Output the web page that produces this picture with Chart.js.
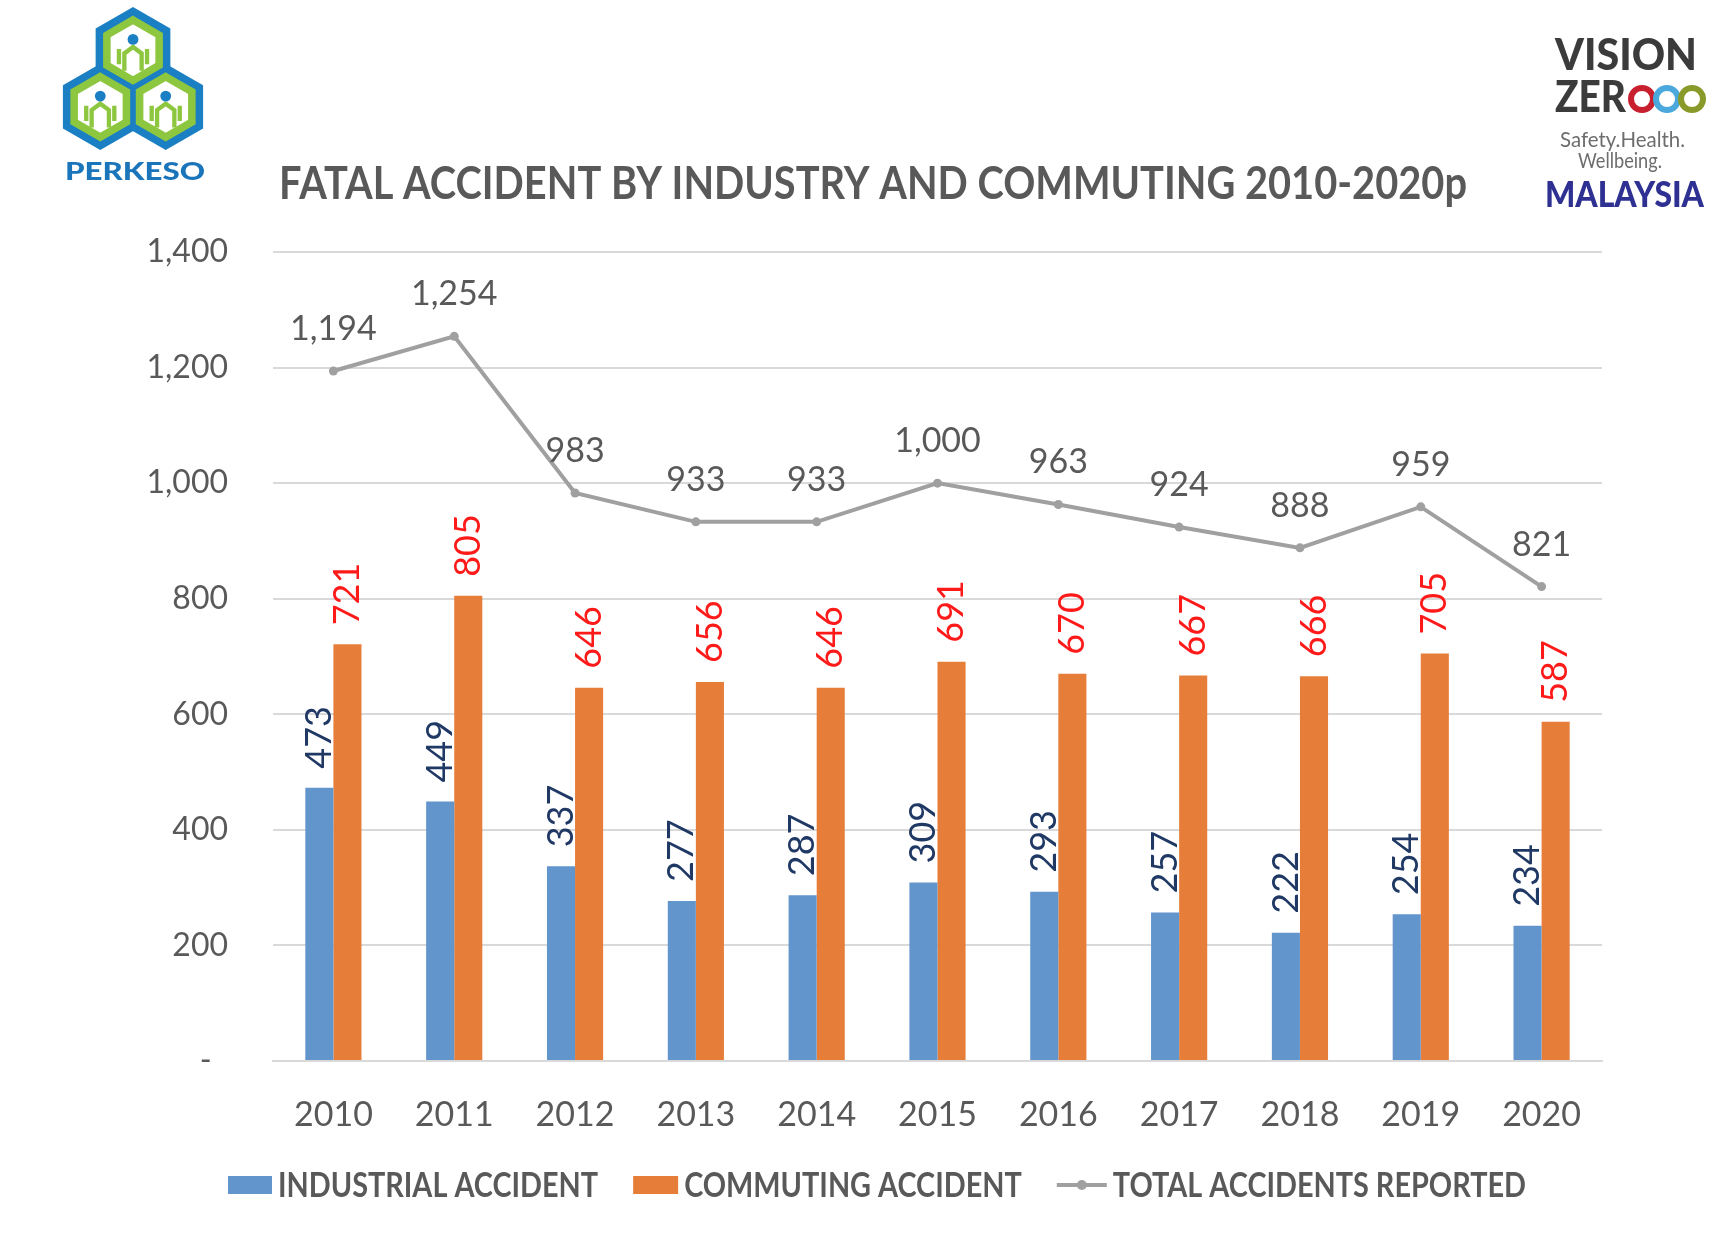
<!DOCTYPE html>
<html>
<head>
<meta charset="utf-8">
<script src="https://cdn.jsdelivr.net/npm/chart.js@4.4.1/dist/chart.umd.min.js"></script>
<style>
  html, body { margin: 0; padding: 0; background: #fff; }
  #wrap { position: relative; width: 1736px; height: 1247px; }
  #chart { position: absolute; left: 0; top: 0; }
  svg.logo { position: absolute; left: 0; top: 0; }
</style>
</head>
<body>
<div id="wrap">
  <canvas id="chart" width="1736" height="1247"></canvas>
  <svg class="logo" width="1736" height="240" xmlns="http://www.w3.org/2000/svg">
    <!-- PERKESO logo -->
    <g transform="translate(133,7) scale(1.08) translate(-133,-7)">
      <g fill="#1b7fc4">
        <polygon points="133,7 167.6,27 167.6,67 133,87 98.4,67 98.4,27"/>
        <polygon points="102.7,59.5 137.3,79.5 137.3,119.5 102.7,139.5 68.1,119.5 68.1,79.5"/>
        <polygon points="163.3,59.5 197.9,79.5 197.9,119.5 163.3,139.5 128.7,119.5 128.7,79.5"/>
      </g>
      <g fill="#fff" stroke="#8dc63f" stroke-width="7">
        <polygon points="133,19 157.2,33 157.2,61 133,75 108.8,61 108.8,33"/>
        <polygon points="102.7,71.5 126.9,85.5 126.9,113.5 102.7,127.5 78.5,113.5 78.5,85.5"/>
        <polygon points="163.3,71.5 187.5,85.5 187.5,113.5 163.3,127.5 139.1,113.5 139.1,85.5"/>
      </g>
      <g fill="none" stroke="#8dc63f" stroke-width="4">
        <path d="M125,66 V50 L133,44 L141,50 V66 M120,60 V46 M146,60 V46"/>
        <path d="M94.7,118.5 V102.5 L102.7,96.5 L110.7,102.5 V118.5 M89.7,112.5 V98.5 M115.7,112.5 V98.5"/>
        <path d="M155.3,118.5 V102.5 L163.3,96.5 L171.3,102.5 V118.5 M150.3,112.5 V98.5 M176.3,112.5 V98.5"/>
      </g>
      <g fill="#1b7fc4">
        <circle cx="133" cy="37" r="5"/>
        <circle cx="102.7" cy="89.5" r="5"/>
        <circle cx="163.3" cy="89.5" r="5"/>
      </g>
    </g>
    <text x="65" y="180" font-family="Lato" font-weight="900" font-size="25" fill="#1b75bb" textLength="140" lengthAdjust="spacingAndGlyphs">PERKESO</text>

    <!-- Vision Zero logo -->
    <text x="1555" y="70" font-family="Lato" font-weight="900" font-size="43" fill="#3b3b3b" textLength="142" lengthAdjust="spacingAndGlyphs">VISION</text>
    <text x="1555" y="112" font-family="Lato" font-weight="900" font-size="43" fill="#3b3b3b" textLength="71" lengthAdjust="spacingAndGlyphs">ZER</text>
    <g fill="none" stroke-width="6">
      <circle cx="1642" cy="99" r="11" stroke="#c8202f"/>
      <circle cx="1667" cy="99" r="11" stroke="#4aa8dc"/>
      <circle cx="1692" cy="99" r="11" stroke="#8a9a2a"/>
    </g>
    <text x="1560" y="147" font-family="Lato" font-size="21" fill="#6d6d6d" textLength="125" lengthAdjust="spacingAndGlyphs">Safety.Health.</text>
    <text x="1578" y="168" font-family="Lato" font-size="21" fill="#6d6d6d" textLength="84" lengthAdjust="spacingAndGlyphs">Wellbeing.</text>
    <text x="1545" y="207" font-family="Lato" font-weight="900" font-size="36" fill="#2e3192" textLength="159" lengthAdjust="spacingAndGlyphs">MALAYSIA</text>
  </svg>
</div>
<script>
var years = ['2010','2011','2012','2013','2014','2015','2016','2017','2018','2019','2020'];
var industrial = [473, 449, 337, 277, 287, 309, 293, 257, 222, 254, 234];
var commuting = [721, 805, 646, 656, 646, 691, 670, 667, 666, 705, 587];
var total = [1194, 1254, 983, 933, 933, 1000, 963, 924, 888, 959, 821];
var seriesNames = ['INDUSTRIAL ACCIDENT', 'COMMUTING ACCIDENT', 'TOTAL ACCIDENTS REPORTED'];
var chartTitle = 'FATAL ACCIDENT BY INDUSTRY AND COMMUTING 2010-2020p';

var BLUE = '#6395cd', ORANGE = '#e67e3a', GREY_LINE = '#a0a0a0', TEXT = '#595959';

function fmt(v) { return v.toLocaleString('en-US'); }

// value labels: grey above the line, rotated above each bar
var valueLabels = {
    id: 'valueLabels',
    afterDatasetsDraw: function(chart) {
        var ctx = chart.ctx;
        chart.data.datasets.forEach(function(ds, i) {
            var meta = chart.getDatasetMeta(i);
            meta.data.forEach(function(el, j) {
                var txt = fmt(ds.data[j]);
                ctx.save();
                if (ds.type === 'line') {
                    ctx.font = '34px Lato';
                    ctx.fillStyle = TEXT;
                    ctx.textAlign = 'center';
                    ctx.textBaseline = 'middle';
                    ctx.fillText(txt, el.x, el.y - 42);
                } else {
                    ctx.font = '36px Lato';
                    ctx.fillStyle = ds.labelColor;
                    ctx.translate(el.x, el.y - 19);
                    ctx.rotate(-Math.PI / 2);
                    ctx.textAlign = 'left';
                    ctx.textBaseline = 'middle';
                    ctx.fillText(txt, 0, 0);
                }
                ctx.restore();
            });
        });
    }
};

// title and legend, drawn in a condensed style
var decor = {
    id: 'decor',
    afterDraw: function(chart) {
        var ctx = chart.ctx;
        // title
        ctx.save();
        ctx.font = 'bold 46px Lato';
        ctx.fillStyle = TEXT;
        ctx.textBaseline = 'alphabetic';
        var tw = ctx.measureText(chartTitle).width;
        ctx.translate(279, 199);
        ctx.scale(1188 / tw, 1);
        ctx.fillText(chartTitle, 0, 0);
        ctx.restore();

        // legend
        ctx.save();
        ctx.font = 'bold 34px Lato';
        var widths = seriesNames.map(function(s) { return ctx.measureText(s).width; });
        var symW = [44, 45, 50], gapIn = 6, gapOut = 35, totalW = 1298;
        var fixed = symW[0] + symW[1] + symW[2] + 3 * gapIn + 2 * gapOut;
        var sx = (totalW - fixed) / (widths[0] + widths[1] + widths[2]);
        var x = 877 - totalW / 2, yc = 1185;
        for (var k = 0; k < 3; k++) {
            if (k < 2) {
                ctx.fillStyle = k === 0 ? BLUE : ORANGE;
                ctx.fillRect(x, yc - 9, symW[k], 18);
            } else {
                ctx.strokeStyle = GREY_LINE;
                ctx.lineWidth = 4;
                ctx.beginPath();
                ctx.moveTo(x, yc); ctx.lineTo(x + symW[k], yc);
                ctx.stroke();
                ctx.fillStyle = GREY_LINE;
                ctx.beginPath();
                ctx.arc(x + symW[k] / 2, yc, 5, 0, Math.PI * 2);
                ctx.fill();
            }
            x += symW[k] + gapIn;
            ctx.save();
            ctx.translate(x, yc);
            ctx.scale(sx, 1);
            ctx.fillStyle = TEXT;
            ctx.textBaseline = 'middle';
            ctx.fillText(seriesNames[k], 0, 1);
            ctx.restore();
            x += widths[k] * sx + gapOut;
        }
        ctx.restore();
    }
};

Chart.defaults.font.family = 'Lato';
Chart.defaults.color = TEXT;

new Chart(document.getElementById('chart').getContext('2d'), {
    type: 'bar',
    data: {
        labels: years,
        datasets: [
            { type: 'line', label: seriesNames[2], data: total, borderColor: GREY_LINE, backgroundColor: GREY_LINE,
              borderWidth: 4, pointRadius: 4.5, pointBackgroundColor: GREY_LINE, pointBorderWidth: 0, tension: 0, order: 0 },
            { label: seriesNames[0], data: industrial, backgroundColor: BLUE, labelColor: '#1f3864', order: 1 },
            { label: seriesNames[1], data: commuting, backgroundColor: ORANGE, labelColor: '#ff1a1a', order: 1 }
        ]
    },
    options: {
        responsive: false,
        animation: false,
        events: [],
        layout: { padding: { top: 252, left: 0, right: 134, bottom: 86 } },
        datasets: { bar: { categoryPercentage: 0.465, barPercentage: 1.0 } },
        plugins: { legend: { display: false }, title: { display: false }, tooltip: { enabled: false } },
        scales: {
            x: {
                grid: { display: false, drawTicks: false },
                border: { display: true, color: '#d9d9d9', width: 2 },
                ticks: { font: { size: 34 }, color: TEXT, padding: 34, maxRotation: 0 },
                afterFit: function(s) { s.height = 100; }
            },
            y: {
                min: 0, max: 1400,
                grid: { color: '#d9d9d9', lineWidth: 2, drawTicks: false },
                border: { display: false },
                ticks: {
                    stepSize: 200, font: { size: 32 }, color: TEXT, padding: 45,
                    callback: function(v) { return v === 0 ? '-  ' : fmt(v); }
                },
                afterFit: function(s) { s.width = 273; }
            }
        }
    },
    plugins: [valueLabels, decor]
});
</script>
</body>
</html>
